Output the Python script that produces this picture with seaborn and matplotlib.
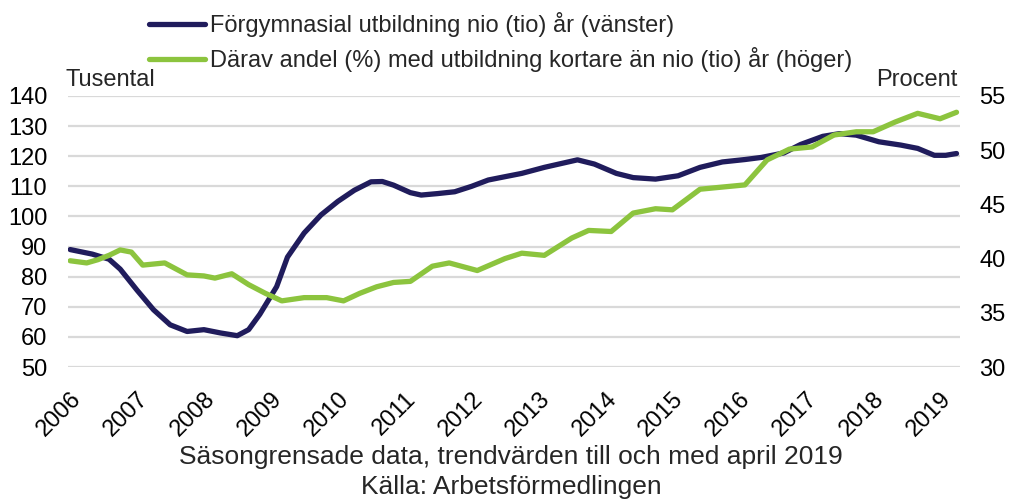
import pandas as pd
import numpy as np
import seaborn as sns
import matplotlib.pyplot as plt
import matplotlib.dates as mdates
from matplotlib.transforms import ScaledTranslation

# Månadsindex räknat från januari 2006, avlästa punkter
morker_man = [0, 4, 7, 9, 12, 15, 18, 21, 24, 27, 30, 32, 34, 37, 39, 42, 45, 48, 51, 54, 56,
              58, 61, 63, 66, 69, 72, 75, 78, 81, 85, 91, 94, 98, 101, 105, 109, 113, 117, 121,
              124, 128, 131, 135, 138, 141, 145, 149, 152, 155, 157, 159]
morker_varde = [89, 87.5, 85.8, 82.5, 75.5, 69, 64, 61.8, 62.4, 61.3, 60.4, 62.4, 67.5, 76.7, 86.5,
                94.5, 100.5, 105, 108.7, 111.5, 111.6, 110.4, 107.9, 107.1, 107.6, 108.2, 110,
                112.1, 113.2, 114.3, 116.3, 118.8, 117.4, 114.3, 112.9, 112.4, 113.5, 116.3, 118.1,
                118.9, 119.6, 121.1, 123.9, 126.6, 127.5, 127, 124.8, 123.7, 122.6, 120.3, 120.3, 120.9]

gron_man = [0, 3, 5, 7, 9, 11, 13, 17, 21, 24, 26, 29, 32, 35, 38, 42, 46, 49, 52, 55, 58, 61,
            65, 68, 73, 78, 81, 85, 90, 93, 97, 101, 105, 108, 113, 117, 121, 125, 129, 133, 137,
            141, 144, 148, 152, 156, 159]
gron_varde = [39.8, 39.6, 39.9, 40.3, 40.8, 40.6, 39.4, 39.6, 38.5, 38.4, 38.2, 38.6, 37.6, 36.8,
              36.1, 36.4, 36.4, 36.1, 36.8, 37.4, 37.8, 37.9, 39.3, 39.6, 38.9, 40.0, 40.5, 40.3,
              41.9, 42.6, 42.5, 44.2, 44.6, 44.5, 46.4, 46.6, 46.8, 49.1, 50.1, 50.3, 51.4, 51.7,
              51.7, 52.6, 53.4, 52.9, 53.5]

etikett_vanster = 'Förgymnasial utbildning nio (tio) år (vänster)'
etikett_hoger = 'Därav andel (%) med utbildning kortare än nio (tio) år (höger)'


def till_datum(man):
    return pd.to_datetime([f'{2006 + m // 12}-{m % 12 + 1:02d}-01' for m in man])


df_morker = pd.DataFrame({'datum': till_datum(morker_man), 'varde': morker_varde})
df_gron = pd.DataFrame({'datum': till_datum(gron_man), 'varde': gron_varde})

sns.set_style('white')
plt.rcParams['font.family'] = ['Liberation Sans', 'DejaVu Sans']

morkbla = '#201c5c'
gron = '#8cc43e'
fs = 17

fig = plt.figure(figsize=(10.09, 5), dpi=100)
ax = fig.add_axes([68 / 1009, 1 - 367 / 500, (960 - 68) / 1009, (367 - 96) / 500])
ax2 = ax.twinx()

sns.lineplot(data=df_morker, x='datum', y='varde', ax=ax, color=morkbla, linewidth=3.8,
             label=etikett_vanster, legend=False, zorder=3)
sns.lineplot(data=df_gron, x='datum', y='varde', ax=ax2, color=gron, linewidth=3.8,
             label=etikett_hoger, legend=False, zorder=3)
for l in ax.lines + ax2.lines:
    l.set_solid_joinstyle('round')
    l.set_solid_capstyle('round')

ax.set_ylim(50, 140)
ax.set_yticks(range(50, 141, 10))
ax2.set_ylim(30, 55)
ax2.set_yticks(range(30, 56, 5))
ax.set_xlim(pd.Timestamp('2005-12-20'), pd.Timestamp('2019-04-20'))

ax.yaxis.grid(True, color='#d9d9d9', linewidth=1.6)
ax.set_axisbelow(True)
for a in (ax, ax2):
    for s in a.spines.values():
        s.set_visible(False)
    a.set_xlabel('')
    a.set_ylabel('')
    a.tick_params(axis='both', length=0, labelsize=fs, colors='black')

ax.set_xticks(pd.to_datetime([f'{y}-01-01' for y in range(2006, 2020)]))
ax.xaxis.set_major_formatter(mdates.DateFormatter('%Y'))
forskjut = ScaledTranslation(-5 / 100, 0, fig.dpi_scale_trans)
for t in ax.get_xticklabels():
    t.set_rotation(45)
    t.set_ha('right')
    t.set_rotation_mode('anchor')
    t.set_transform(t.get_transform() + forskjut)
ax.tick_params(axis='x', pad=15)
ax.tick_params(axis='y', pad=15)
ax2.tick_params(axis='y', pad=14)

fig.text(65 / 1009, 1 - 80 / 500, 'Tusental', fontsize=fs, va='center', ha='left')
fig.text(958 / 1009, 1 - 80 / 500, 'Procent', fontsize=fs, va='center', ha='right')

fig.legend(handles=ax.lines + ax2.lines, labels=[etikett_vanster, etikett_hoger],
           loc='upper left', bbox_to_anchor=(140 / 1009, 1 - 3 / 500), frameon=False,
           fontsize=fs, handlelength=2.35, handletextpad=0.2, labelspacing=0.4,
           borderaxespad=0)

fig.text(511 / 1009, 1 - 457 / 500, 'Säsongrensade data, trendvärden till och med april 2019',
         fontsize=19, ha='center', va='center')
fig.text(511 / 1009, 1 - 487 / 500, 'Källa: Arbetsförmedlingen',
         fontsize=19, ha='center', va='center')

plt.savefig('out.png', dpi=100)
